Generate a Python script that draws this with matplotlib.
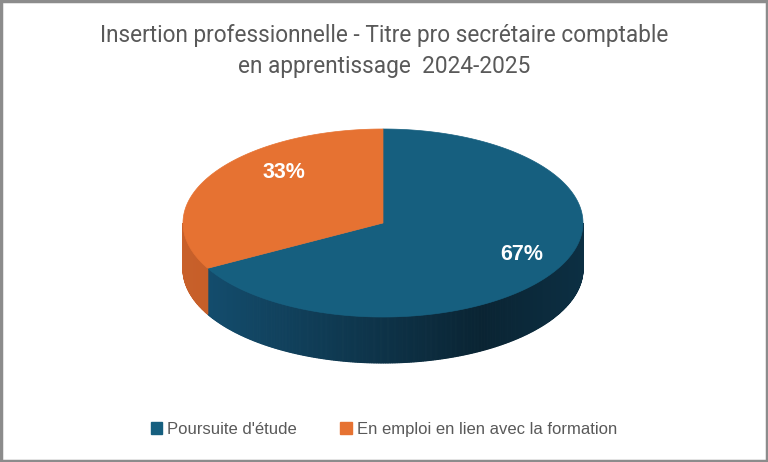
import numpy as np
import matplotlib
matplotlib.use("Agg")
import matplotlib.pyplot as plt
from matplotlib.patches import Polygon, Rectangle, Patch

TITLE = "Insertion professionnelle - Titre pro secrétaire comptable\nen apprentissage  2024-2025"
CATEGORIES = ["Poursuite d'étude", "En emploi en lien avec la formation"]
VALUES = [67, 33]
LABELS = ["67%", "33%"]
TOP_COLORS = ["#165f7f", "#e67232"]
SIDE_COLORS = [("#145072", "#0a2433"), ("#c8602a", "#b4521f")]

# pie geometry in pixels
CX, CY = 383, 223
RX, RY = 200, 94
DEPTH = 46
START = 90.0

fig = plt.figure(figsize=(7.68, 4.62), dpi=100)
ax = fig.add_axes([0, 0, 1, 1])
ax.set_xlim(0, 768)
ax.set_ylim(462, 0)
ax.axis("off")

ax.add_patch(Rectangle((1, 1), 766, 460, fill=False, edgecolor="#8c8c8c", linewidth=2.5))


def ell(t, dy=0):
    r = np.radians(t)
    return CX + RX * np.cos(r), CY - RY * np.sin(r) + dy


def mix(c1, c2, f):
    a = np.array(matplotlib.colors.to_rgb(c1))
    b = np.array(matplotlib.colors.to_rgb(c2))
    return a + (b - a) * f


total = sum(VALUES)
spans = []
a0 = START
for v in VALUES:
    a1 = a0 - 360.0 * v / total
    spans.append((a1, a0))
    a0 = a1

# side walls (front half only: parametric angle 180..360)
for i, (lo, hi) in enumerate(spans):
    for off in (0, 360, -360):
        s, e = max(lo + off, 180), min(hi + off, 360)
        if e <= s:
            continue
        ts = np.linspace(s, e, int((e - s) * 2) + 2)
        for t1, t2 in zip(ts[:-1], ts[1:]):
            x1, y1 = ell(t1)
            x2, y2 = ell(t2)
            xm = (x1 + x2) / 2
            f = np.clip((xm - (CX - RX)) / (1.5 * RX), 0, 1)
            if xm > CX + 0.5 * RX:
                f = 1 - 0.25 * (xm - (CX + 0.5 * RX)) / (0.5 * RX)
            col = mix(SIDE_COLORS[i][0], SIDE_COLORS[i][1], f)
            ax.add_patch(Polygon([(x1, y1), (x2, y2), (x2, y2 + DEPTH), (x1, y1 + DEPTH)],
                                 closed=True, facecolor=col, edgecolor=col, linewidth=0.8))

# top faces
for i, (lo, hi) in enumerate(spans):
    ts = np.linspace(lo, hi, 200)
    pts = [(CX, CY)] + [ell(t) for t in ts]
    ax.add_patch(Polygon(pts, closed=True, facecolor=TOP_COLORS[i],
                         edgecolor=TOP_COLORS[i], linewidth=0.5))

# data labels
label_pos = [(522, 254), (284, 172)]
for (x, y), lab in zip(label_pos, LABELS):
    ax.text(x, y, lab, color="white", fontsize=15.5, fontweight="bold",
            family=["Liberation Sans", "DejaVu Sans"], ha="center", va="center")

ax.text(384, 51, TITLE, ha="center", va="center", fontsize=16.3, color="#595959",
        family=["Roboto", "DejaVu Sans"], linespacing=1.4)

handles = [Patch(facecolor=c, edgecolor=c) for c in TOP_COLORS]
leg = ax.legend(handles, CATEGORIES, loc="center", bbox_to_anchor=(0.5, 0.071),
                ncol=2, frameon=False, handlelength=0.7, handleheight=0.7,
                handletextpad=0.3, columnspacing=2.6,
                prop={"family": ["Liberation Sans", "DejaVu Sans"], "size": 12})
for t in leg.get_texts():
    t.set_color("#595959")

fig.savefig("out.png", dpi=100)
